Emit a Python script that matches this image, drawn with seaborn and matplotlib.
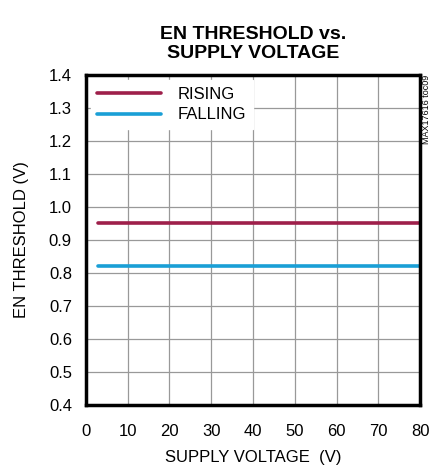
import pandas as pd
import seaborn as sns
import matplotlib.pyplot as plt

# Data
supply_v = [3, 10, 20, 30, 40, 50, 60, 70, 80]
rising_v = [0.95, 0.95, 0.95, 0.95, 0.95, 0.95, 0.95, 0.95, 0.95]
falling_v = [0.82, 0.82, 0.82, 0.82, 0.82, 0.82, 0.82, 0.82, 0.82]

df = pd.DataFrame({
    "supply": supply_v * 2,
    "threshold": rising_v + falling_v,
    "edge": ["RISING"] * len(supply_v) + ["FALLING"] * len(supply_v),
})

sns.set_style("white")
plt.rcParams["font.family"] = ["Liberation Sans", "DejaVu Sans"]
plt.rcParams.update({"text.color": "black", "axes.labelcolor": "black",
                     "xtick.color": "black", "ytick.color": "black"})

fig = plt.figure(figsize=(4.47, 4.68), dpi=100)
ax = fig.add_axes([0.192, 0.135, 0.748, 0.705])

sns.lineplot(data=df, x="supply", y="threshold", hue="edge",
             palette={"RISING": "#9e1f4a", "FALLING": "#1a9fd6"},
             linewidth=2.6, ax=ax)

ax.set_xlim(0, 80)
ax.set_ylim(0.4, 1.4)
ax.set_xticks(range(0, 81, 10))
ax.set_yticks([0.4 + 0.1 * i for i in range(11)])
ax.set_yticklabels([f"{0.4 + 0.1 * i:.1f}" for i in range(11)])
ax.tick_params(labelsize=12, length=0)
ax.tick_params(axis="x", pad=14)
ax.tick_params(axis="y", pad=10)
ax.grid(True, color="#999999", linewidth=0.9)
for s in ax.spines.values():
    s.set_linewidth(2.5)
    s.set_color("black")

ax.set_xlabel("SUPPLY VOLTAGE  (V)", fontsize=12, labelpad=8)
ax.set_ylabel("EN THRESHOLD (V)", fontsize=12, labelpad=14)
ax.set_title("EN THRESHOLD vs.\nSUPPLY VOLTAGE", fontsize=14, fontweight="bold", pad=12)

leg = ax.legend(loc="upper left", fontsize=12, frameon=True, framealpha=1,
                edgecolor="white", fancybox=False, handlelength=3.8,
                handletextpad=1.0, borderaxespad=0.3, labelspacing=0.35)
leg.set_title(None)

fig.text(0.955, 0.84, "MAX17616 toc09", rotation=90, fontsize=6.5,
         va="top", ha="center")

fig.savefig("out.png", dpi=100)
